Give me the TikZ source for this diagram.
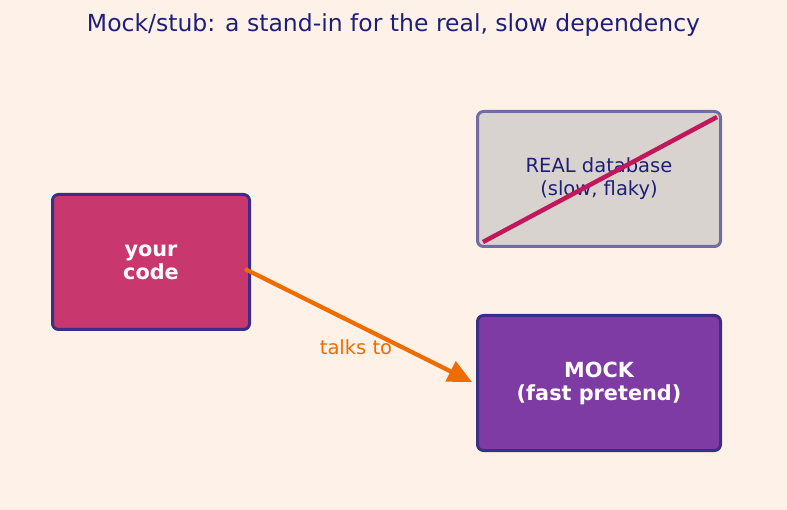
\documentclass[tikz,border=0pt]{standalone}
\usepackage{fontspec}
\setmainfont{DejaVu Sans}
\usetikzlibrary{arrows.meta}
\definecolor{bg}{HTML}{FEF2E8}
\definecolor{navy}{HTML}{1F1F7A}
\definecolor{codefill}{HTML}{C8386F}
\definecolor{boxline}{HTML}{3A2E88}
\definecolor{realfill}{HTML}{D8D3CF}
\definecolor{realline}{HTML}{726CA3}
\definecolor{cross}{HTML}{C2185B}
\definecolor{mockfill}{HTML}{7E3BA3}
\definecolor{arrowc}{HTML}{EF6C00}
\tikzset{
  card/.style={draw, line width=3pt, rounded corners=6pt, inner sep=0pt, anchor=north west, align=center},
  boxtext/.style={font=\fontsize{19.5}{23}\selectfont},
  boldtext/.style={font=\fontsize{20.8}{23}\selectfont\bfseries},
}
\begin{document}
\begin{tikzpicture}[x=1pt,y=-1pt]
\fill[bg] (0,0) rectangle (787,510);
\useasboundingbox (0,0) rectangle (787,510);
\node[text=navy, font=\fontsize{23.5}{27}\selectfont] (title) at (393.5,25) {Mock/stub: a stand-in for the real, slow dependency};
\node[card, fill=codefill, draw=boxline, minimum width=197pt, minimum height=135pt, text=white, boldtext] (code) at (51,193) {your\\code};
\node[card, fill=realfill, draw=realline, minimum width=243pt, minimum height=135pt, text=navy, boxtext] (real) at (476,110) {REAL database\\(slow, flaky)};
\node[card, fill=mockfill, draw=boxline, minimum width=243pt, minimum height=135pt, text=white, boldtext] (mock) at (476,314) {MOCK\\(fast pretend)};
\draw[cross, line width=4.5pt] ([shift={(7,-6)}]real.south west) -- ([shift={(-5,7)}]real.north east);
\coordinate (a0) at ([shift={(-6,7)}]code.east);
\coordinate (a1) at ([shift={(-4,-1)}]mock.west);
\draw[arrowc, line width=4.2pt, -{Triangle[length=24pt,width=22pt]}] (a0) -- (a1);
\node[text=arrowc, boxtext] (lbl) at (356,347) {talks to};
\end{tikzpicture}
\end{document}
